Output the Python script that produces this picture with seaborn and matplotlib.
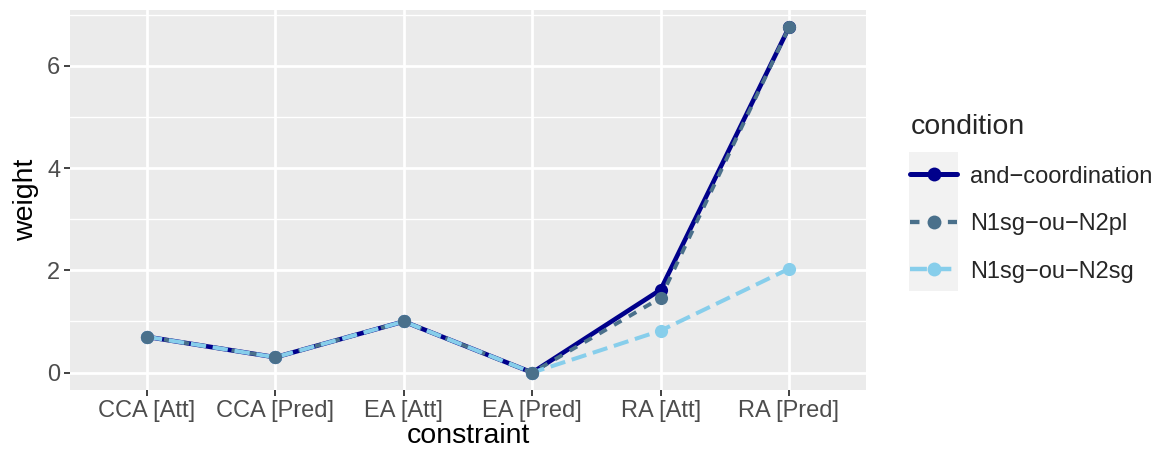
import matplotlib
matplotlib.use("Agg")
import matplotlib.pyplot as plt
from matplotlib.lines import Line2D
from matplotlib.patches import Rectangle
import pandas as pd
import seaborn as sns

constraints = ["CCA [Att]", "CCA [Pred]", "EA [Att]", "EA [Pred]", "RA [Att]", "RA [Pred]"]
conditions = ["and\u2212coordination", "N1sg\u2212ou\u2212N2pl", "N1sg\u2212ou\u2212N2sg"]
w_and = [0.70, 0.30, 1.00, 0.0, 1.62, 6.75]
w_n2pl = [0.70, 0.30, 1.00, 0.0, 1.46, 6.75]
w_n2sg = [0.70, 0.30, 1.00, 0.0, 0.82, 2.03]

colors = ["#00008B", "#4A708B", "#87CEEB"]
widths = [3.3, 2.8, 2.9]
dash_styles = [None, (2.2, 2.2), (3.8, 1.7)]

df = pd.DataFrame({
    "constraint": constraints * 3,
    "condition": [c for c in conditions for _ in constraints],
    "weight": w_and + w_n2pl + w_n2sg,
})
df["x"] = df["constraint"].map({c: i for i, c in enumerate(constraints)}).astype(float)

sns.set_theme(style="darkgrid")
plt.rcParams["font.family"] = ["Liberation Sans", "DejaVu Sans"]

fig = plt.figure(figsize=(11.56, 4.54), dpi=100)
ax = fig.add_axes([70 / 1156, 1 - 390 / 454, (866 - 70) / 1156, (390 - 10) / 454])
ax.set_facecolor("#EBEBEB")

# lignes d'abord, puis les points (N2pl dessiné en dernier)
handles = []
for cond, col, lw, ds in zip(conditions, colors, widths, dash_styles):
    sub = df[df["condition"] == cond]
    sns.lineplot(data=sub, x="x", y="weight", color=col, linewidth=lw, ax=ax, zorder=3)
    if ds is not None:
        ax.lines[-1].set_dashes(ds)
    h = Line2D([], [], color=col, linewidth=lw + 0.3, marker="o", markersize=10,
               markeredgewidth=0)
    if ds is not None:
        h.set_dashes(ds)
    handles.append(h)

for i in [0, 2, 1]:
    sub = df[df["condition"] == conditions[i]]
    sns.scatterplot(data=sub, x="x", y="weight", color=colors[i], s=90,
                    linewidth=0, ax=ax, zorder=4)

ax.set_xlim(-0.6, 5.6)
ax.set_ylim(-0.34, 7.09)
ax.set_xticks(range(len(constraints)))
ax.set_xticklabels(constraints)
ax.set_yticks([0, 2, 4, 6])
ax.set_yticks([1, 3, 5, 7], minor=True)
ax.grid(which="major", color="white", linewidth=2.0)
ax.grid(which="minor", axis="y", color="white", linewidth=1.0)
ax.grid(which="minor", axis="x", visible=False)
ax.set_axisbelow(True)
for sp in ax.spines.values():
    sp.set_visible(False)
ax.tick_params(axis="both", which="major", length=4, width=1.3, color="#333333",
               labelsize=17, labelcolor="#4D4D4D", pad=3, bottom=True, left=True)
ax.tick_params(axis="both", which="minor", length=0)
ax.set_xlabel("constraint", fontsize=20.5, color="black", labelpad=1)
ax.set_ylabel("weight", fontsize=20.5, color="black", labelpad=6)

fig.patches.append(Rectangle((909 / 1156, 1 - 291 / 454), 49 / 1156, 139 / 454,
                             transform=fig.transFigure, facecolor="#F2F2F2",
                             edgecolor="none", zorder=0))
leg = fig.legend(handles, conditions, title="condition", loc="upper left",
                 bbox_to_anchor=(889 / 1156, 1 - 93 / 454), frameon=False,
                 fontsize=17, title_fontsize=20.5, handlelength=2.0,
                 labelspacing=1.08, handletextpad=0.55)
leg._legend_box.align = "left"

fig.savefig("out.png", dpi=100)
